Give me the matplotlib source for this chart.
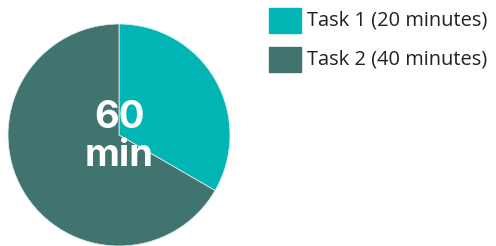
import matplotlib.pyplot as plt
from matplotlib.patches import Rectangle

tasks = ['Task 1', 'Task 2']
minutes = [20, 40]
colors = ['#00B5B3', '#41736F']
total = sum(minutes)

plt.rcParams['font.family'] = ['Open Sans', 'DejaVu Sans']

fig = plt.figure(figsize=(4.96, 2.46), dpi=100)
ax = fig.add_axes([8/496, 0, 222/496, 222/246])
ax.pie(minutes, colors=colors, startangle=90, counterclock=False, radius=1,
       wedgeprops={'linewidth': 0.6, 'edgecolor': '#d8eeee'})
ax.set_xlim(-1, 1)
ax.set_ylim(-1, 1)
ax.set_aspect('equal')
ax.axis('off')
ax.text(0, 0.15, str(total), ha='center', va='center', color='white',
        fontsize=27.5, fontweight='bold', family=['Inter', 'DejaVu Sans'])
ax.text(0, -0.19, 'min', ha='center', va='center', color='white',
        fontsize=27.5, fontweight='bold', family=['Inter', 'DejaVu Sans'])

# legend drawn by hand
for i, (t, m, c) in enumerate(zip(tasks, minutes, colors)):
    y0 = 1 - (33 + i * 39) / 246
    fig.patches.append(Rectangle((269/496, y0), 32/496, 25/246, color=c,
                                 transform=fig.transFigure))
    fig.text(307/496, y0 + 12.5/246, f'{t} ({m} minutes)', ha='left',
             va='center', fontsize=14.4, color='#222222')

fig.savefig('out.png', dpi=100)
